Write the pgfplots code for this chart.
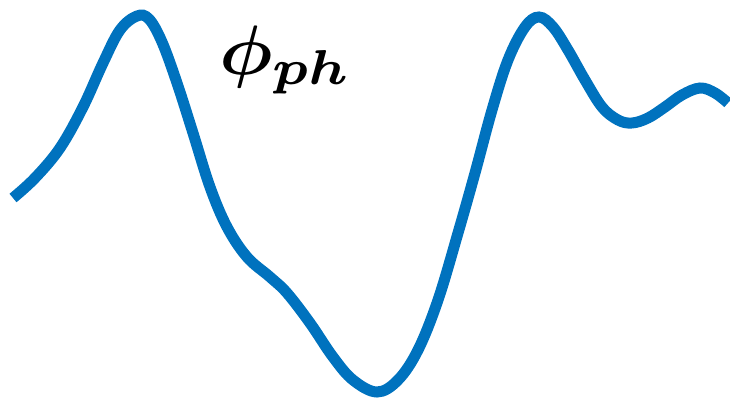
\documentclass[border=0pt]{standalone}
\usepackage{pgfplots}
\pgfplotsset{compat=1.18}
\usepackage{amsmath,bm}
\definecolor{curveblue}{RGB}{0,114,190}
\begin{document}
\begin{tikzpicture}
\useasboundingbox (0,0) rectangle (730pt,402pt);
\begin{axis}[
  at={(0,0)}, anchor=south west,
  hide axis, x=1pt, y=1pt,
  xmin=0, xmax=730, ymin=0, ymax=402,
  clip=false, scale only axis,
]
\addplot[curveblue, line width=11pt, smooth, tension=0.6] table[y expr=402-\thisrow{py}] {
x py
13 198
35 178
60 148
83 107
103 63
120 30
137 16
149 19
162 42
177 83
193 133
210 187
227 227
247 257
270 277
287 293
310 323
333 357
353 380
377 392
398 380
418 350
438 300
458 233
475 173
492 110
508 60
525 27
539 17
553 27
568 50
585 80
602 107
618 120
632 123
648 118
665 107
682 95
700 88
715 93
728 103
};
\node[anchor=center, inner sep=0pt] at (axis cs:286,342) {\scalebox{7.5}[7]{$\bm{\phi_{ph}}$}};
\end{axis}
\end{tikzpicture}
\end{document}
